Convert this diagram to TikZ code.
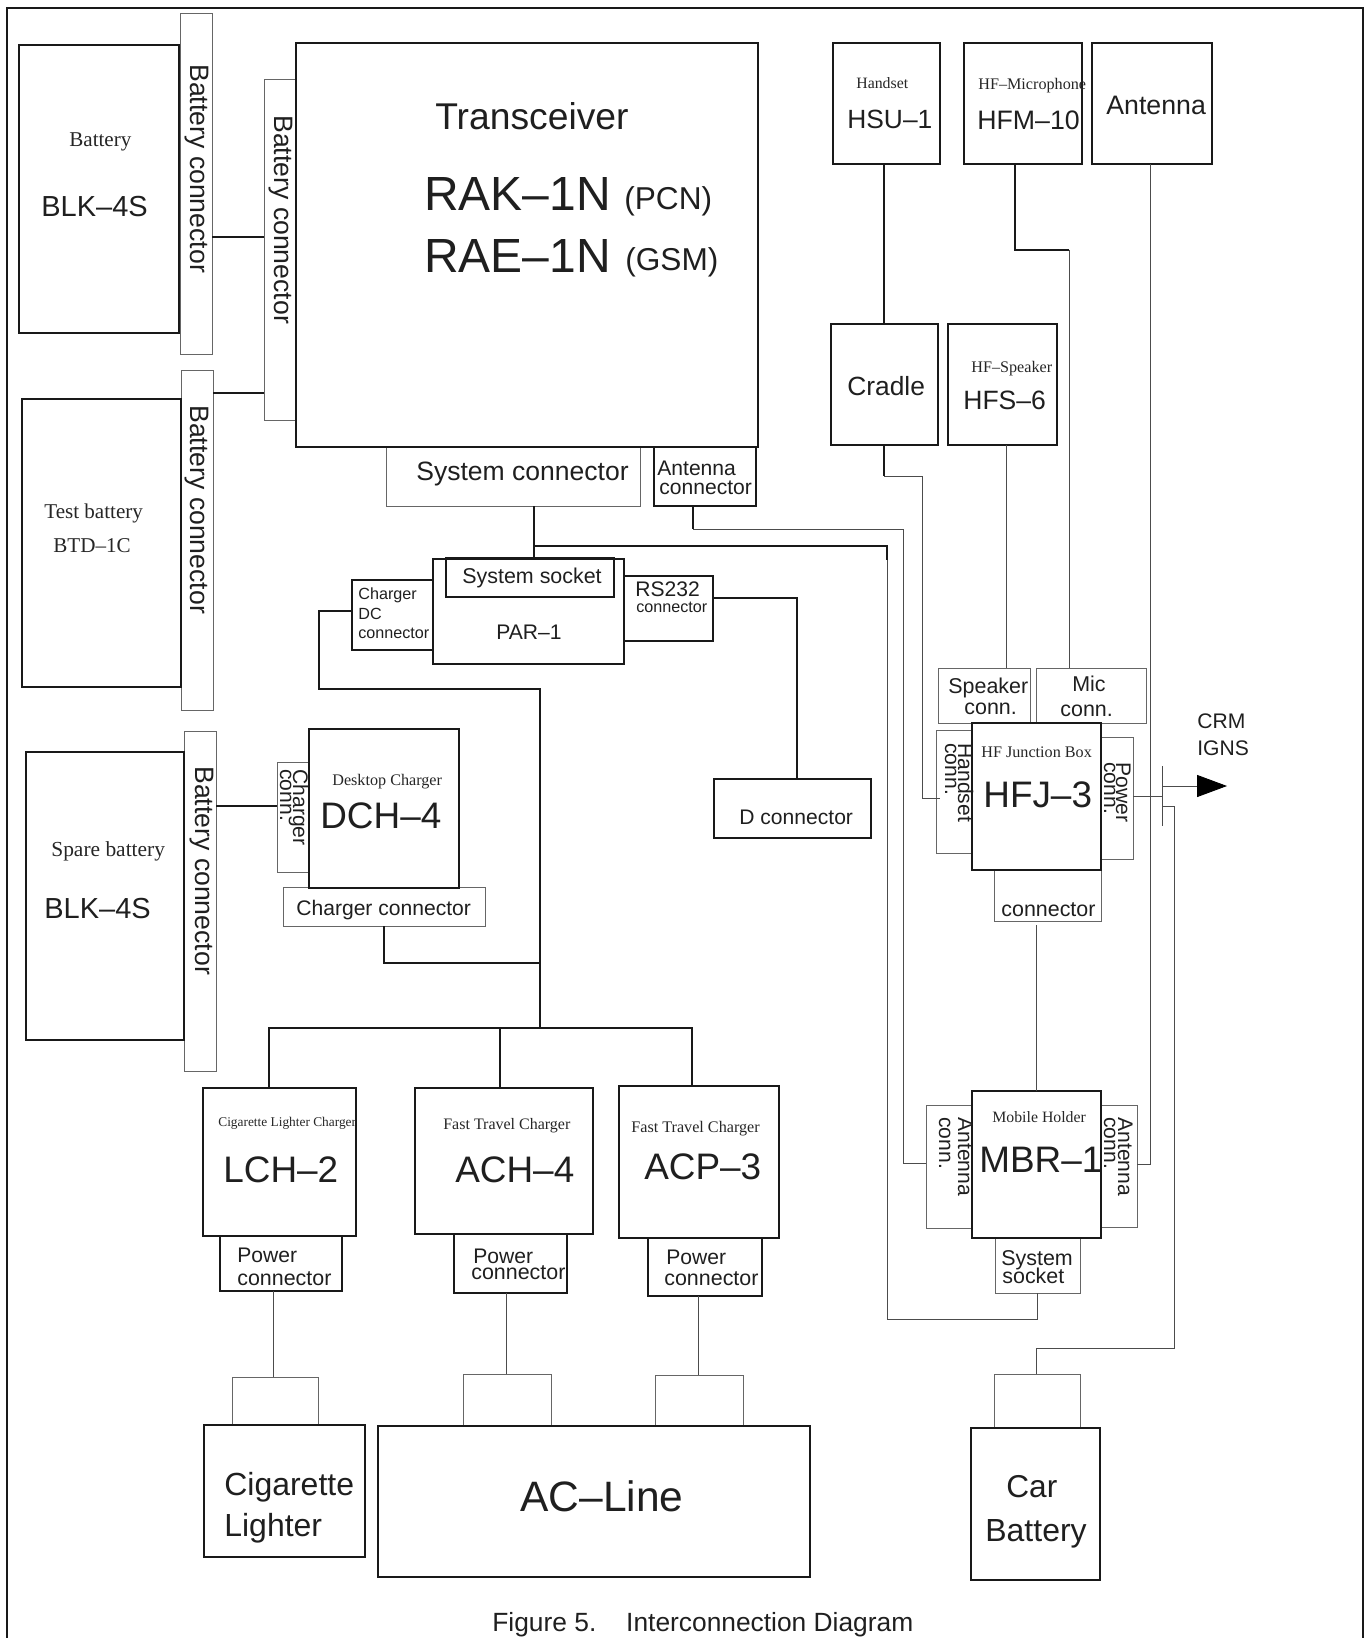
\documentclass[tikz,border=0pt]{standalone}
\usepackage{fontspec}
\setmainfont{Liberation Sans}
\newfontfamily\serifface{Liberation Serif}
\usetikzlibrary{arrows.meta}
\tikzset{
  unitbox/.style={draw=black!90, line width=1.6pt, inner sep=0pt, outer sep=0pt, anchor=north west},
  connbox/.style={draw=black!60, line width=0.5pt, inner sep=0pt, outer sep=0pt, anchor=north west},
  boxsize/.style 2 args={minimum width=#1*0.02cm, minimum height=#2*0.02cm},
  wirebold/.style={draw=black!90, line width=1.5pt},
  wirethin/.style={draw=black!70, line width=0.5pt},
  sanslabel/.style={font=\fontsize{#1}{#1}\selectfont, text=black!88, inner sep=0pt, anchor=base west},
  seriflabel/.style={font=\serifface\fontsize{#1}{#1}\selectfont, text=black!85, inner sep=0pt, anchor=base west},
  sideways/.style={font=\fontsize{#1}{#1}\selectfont, text=black!88, inner sep=0pt, anchor=base west, rotate=-90}
}
\begin{document}
\begin{tikzpicture}[x=0.02cm, y=-0.02cm, >=Latex]
    \useasboundingbox (0,0) rectangle (1370,1638);
    \draw[unitbox] (7,1638) -- (7,8) -- (1363,8) -- (1363,1638);
    % thin connector boxes
    \foreach \n/\x/\y/\w/\h in {batconna/180/13/32/341, batconnb/181/370/32/340, batconnc/264/79/32/341, batconnd/184/731/32/340,
        sysconn/386/447/254/59, chgside/277/762/32/110, chgconn/283/887/202/39,
        spkconn/938/668/92/55, micconn/1036/668/110/55, hsconn/936/730/36/123, powconn/1101/737/32/122, hfjconn/994/870/107/51,
        antl/926/1105/46/123, antr/1101/1105/36/122, mbrsock/995/1238/85/55,
        pluga/232/1377/86/48, plugb/463/1374/88/52, plugc/655/1375/88/51, plugd/994/1374/86/54}
      \node[connbox, boxsize={\w}{\h}] (\n) at (\x,\y) {};
    % main units
    \foreach \n/\x/\y/\w/\h in {battery/19/45/160/288, testbat/22/399/159/288, sparebat/26/752/158/288,
        transceiver/296/43/462/404, par/433/559/191/105, dch/309/729/150/159, dconn/714/779/157/59,
        hsu/833/43/107/121, hfm/964/43/118/121, antenna/1092/43/120/121, cradle/831/324/107/121, hfs/948/324/109/121,
        hfj/972/723/129/147, mbr/972/1091/129/147, lch/203/1088/153/148, ach/415/1088/178/146, acp/619/1086/160/152,
        cigar/204/1425/161/132, acline/378/1426/432/151, carbat/971/1428/129/152,
        syssock/446/558/168/39, antconn/654/447/102/59, dcconn/352/580/81/70, rsconn/624/576/89/65,
        lchpow/220/1236/122/55, achpow/454/1234/113/59, acppow/648/1238/114/58}
      \node[unitbox, boxsize={\w}{\h}] (\n) at (\x,\y) {};
    \coordinate (trunktop) at (319,689);
    \coordinate (trunkbus) at (540,1028);
    \coordinate (chgbend) at (384,963);
    \coordinate (sysjoint) at (534,546);
    \coordinate (sysbend) at (887,546);
    \coordinate (sysdrop) at (887,560);
    \coordinate (sysfoot) at (887,1319);
    \coordinate (antdrop) at (693,529);
    \coordinate (antbend) at (903,529);
    \coordinate (micbend) at (1069,250);
    \coordinate (crastub) at (884,476);
    \coordinate (crabend) at (922,476);
    \coordinate (teetop) at (1162,766);
    \coordinate (teebot) at (1162,826);
    \coordinate (crmtip) at (1227,786);
    \coordinate (carbend) at (1174,1348);
    % wires
    \draw[wirebold] (batconna.east |- 0,237) -- (batconnc.west |- 0,237);
    \draw[wirebold] (batconnb.east |- 0,393) -- (batconnc.west |- 0,393);
    \draw[wirebold] (batconnd.east |- 0,806) -- (chgside.west |- 0,806);
    \draw[wirebold] (sysconn.south -| sysjoint) -- (par.north -| sysjoint);
    \draw[wirebold] (sysjoint) -- (sysbend) -- (sysdrop);
    \draw[wirethin] (sysdrop) -- (sysfoot) -| (mbrsock.south);
    \draw[wirebold] (antconn.south -| antdrop) -- (antdrop);
    \draw[wirethin] (antdrop) -- (antbend) |- (antl.west |- 0,1163);
    \draw[wirebold] (dcconn.west |- 0,611) -| (trunktop) -| (trunkbus);
    \draw[wirebold] (chgconn.south -| chgbend) |- (trunkbus |- chgbend);
    \draw[wirebold] (lch.north -| 269,0) |- (trunkbus) -| (acp.north -| 692,0);
    \draw[wirebold] (ach.north -| 500,0) -- (500,1028);
    \draw[wirebold] (rsconn.east |- 0,598) -| (dconn.north -| 797,0);
    \draw[wirebold] (hsu.south -| 884,0) -- (cradle.north -| 884,0);
    \draw[wirebold] (hfm.south -| 1015,0) |- (micbend);
    \draw[wirethin] (micbend) -- (micconn.north -| micbend);
    \draw[wirethin] (hfs.south -| 1006,0) -- (spkconn.north -| 1006,0);
    \draw[wirebold] (cradle.south -| crastub) -- (crastub);
    \draw[wirethin] (crastub) -- (crabend) |- (940,798);
    \draw[wirethin] (antenna.south -| 1150,0) |- (antr.east |- 0,1164);
    \draw[wirethin] (1036,925) -- (mbr.north -| 1036,0);
    \draw[wirethin] (powconn.east |- 0,796) -- (teetop |- 0,796);
    \draw[wirethin] (teetop) -- (teebot);
    \draw[wirethin, -{Triangle[length=17pt, width=12.5pt, color=black]}] (teetop |- crmtip) -- (crmtip);
    \draw[wirethin] (teetop |- 0,806) -| (carbend) -| (plugd.north -| 1036,0);
    \draw[wirethin] (lchpow.south -| 273,0) -- (pluga.north -| 273,0);
    \draw[wirethin] (achpow.south -| 506,0) -- (plugb.north -| 506,0);
    \draw[wirethin] (acppow.south -| 698,0) -- (plugc.north -| 698,0);
    % upright sans text
    \foreach \n/\s/\x/\y/\t in {lblk/16.5/41/217/BLK–4S, lblkb/16.5/44/918/BLK–4S, ltrans/21.2/435/130/Transceiver,
        lrak/27.3/424/211/RAK–1N, lpcn/18/624/210/(PCN), lrae/27.3/424/273/RAE–1N, lgsm/18/625/271/(GSM),
        lsysconn/15.1/416/480/System connector, lanta/12/657/475/Antenna, lantb/12/659/494/connector,
        lsock/12.2/462/583/System socket, lpar/12/496/639/PAR–1, ldca/9.2/358/599/Charger, ldcb/9.2/358/619/DC, ldcc/9.2/358/638/connector,
        lrsa/12/635/596/RS232, lrsb/9.2/636/612/connector, lhsu/15/847/129/HSU–1, lhfm/15.2/977/130/HFM–10, lant/15.2/1106/115/Antenna,
        lcra/15/847/396/Cradle, lhfs/15.1/963/410/HFS–6, lspka/12.2/948/693/Speaker, lspkb/12.2/964/714/conn., lmica/12.2/1072/691/Mic, lmicb/12.2/1060/716/conn.,
        lcrm/12/1197/728/CRM, lign/12/1197/755/IGNS, lhfj/21/983/807/HFJ–3, lhfjc/12.2/1001/916/connector, ld/12/739/824/D connector,
        ldch/21/320/828/DCH–4, lchg/12/296/915/Charger connector, llch/21/223/1182/LCH–2, lach/21/455/1182/ACH–4, lacp/21/644/1179/ACP–3, lmbr/21/979/1172/MBR–1,
        lpa/12/237/1262/Power, lpb/12.2/237/1285/connector, lpc/12/473/1263/Power, lpd/12.2/471/1279/connector, lpe/12/666/1264/Power, lpf/12.2/664/1285/connector,
        lsa/12.2/1001/1265/System, lsb/12.2/1002/1283/socket, lcga/18.2/224/1495/Cigarette, lcgb/18.2/224/1536/Lighter, lacl/24.2/520/1511/AC–Line,
        lcar/18/1006/1497/Car, lbat/18.2/985/1541/Battery}
      \node[sanslabel=\s] (\n) at (\x,\y) {\t};
    % upright serif text
    \foreach \n/\s/\x/\y/\t in {sbat/12/69/147/Battery, stest/12/44/518/Test battery, sbtd/12/53/552/BTD–1C, sspare/12.2/51/856/Spare battery,
        shand/9/856/89/Handset, smic/9.2/978/90/HF–Microphone, sspk/9.2/971/373/HF–Speaker, sjct/9.2/981/757/HF Junction Box,
        sdesk/9.2/332/785/Desktop Charger, scig/7.6/218/1126/Cigarette Lighter Charger, sfasta/9.1/443/1129/Fast Travel Charger, sfastb/9.2/631/1132/Fast Travel Charger,
        smob/9/992/1122/Mobile Holder}
      \node[seriflabel=\s] (\n) at (\x,\y) {\t};
    % sideways text
    \foreach \n/\s/\x/\y/\t in {ra/15.15/190/64/Battery connector, rb/15.15/190/405/Battery connector, rc/15.15/274/115/Battery connector, rd/15.15/195/766/Battery connector,
        rchg/12/293/769/Charger, rchgb/12/280/769/conn., rhs/12/958/743/Handset, rhsb/12/945/743/conn., rpw/12/1116/762/Power, rpwb/12/1104/762/conn.,
        rant/12/958/1117/Antenna, rantb/12/939/1117/conn., ranr/12/1118/1117/Antenna, ranrb/12/1104/1117/conn.}
      \node[sideways=\s] (\n) at (\x,\y) {\t};
    \node[sanslabel=15] (caption) at (492,1631) {Figure 5.\hspace{17pt}Interconnection Diagram};
\end{tikzpicture}
\end{document}
